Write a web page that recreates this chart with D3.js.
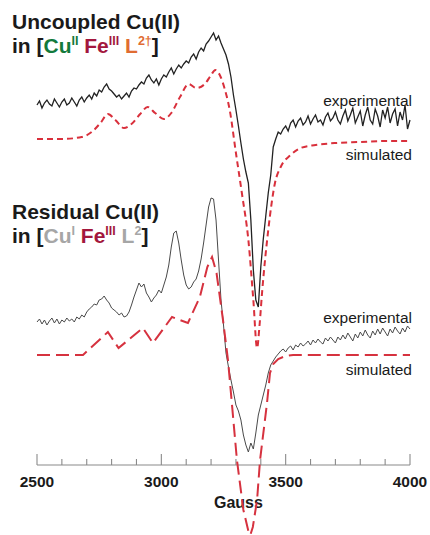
<!DOCTYPE html>
<html>
<head>
<meta charset="utf-8">
<script src="https://cdn.jsdelivr.net/npm/d3@7"></script>
<style>
  body { margin: 0; background: #fff; }
  svg { display: block; font-family: "Liberation Sans", Arial, Helvetica, sans-serif; }
</style>
</head>
<body>
<div id="chart"></div>
<script>
// field grid of the experimental scans (Gauss)
const fieldGrid = d3.range(2500, 4001, 10)

// upper panel, experimental (signal height, arbitrary units)
const expTop = [
  360, 364, 357, 362, 365, 361, 359, 366, 362, 358,
  363, 366, 360, 362, 367, 363, 359, 365, 368, 363,
  367, 370, 366, 372, 369, 375, 373, 378, 381, 376,
  374, 371, 368, 370, 366, 369, 372, 368, 374, 377,
  376, 380, 383, 381, 387, 390, 385, 382, 386, 380,
  386, 390, 388, 393, 397, 391, 396, 400, 397, 401,
  404, 402, 408, 411, 406, 413, 417, 414, 421, 424,
  428, 432, 425, 429, 422, 416, 410, 401, 388, 370,
  355, 339, 322, 306, 293, 282, 245, 195, 165, 158,
  198, 226, 249, 272, 290, 318, 326, 333, 331, 336,
  339, 334, 342, 345, 338, 344, 347, 340, 343, 349,
  341, 346, 350, 343, 345, 340, 348, 352, 344, 347,
  353, 345, 341, 349, 355, 344, 350, 357, 342, 348,
  354, 339, 350, 358, 345, 341, 356, 349, 338, 355,
  347, 358, 342, 351, 356, 339, 353, 345, 360, 336,
  345
]

// lower panel, experimental
const expBottom = [
  143, 146, 141, 145, 140, 144, 147, 142, 146, 141,
  145, 143, 147, 144, 146, 143, 148, 146, 150, 148,
  153, 156, 158, 161, 160, 165, 166, 169, 165, 162,
  157, 155, 153, 150, 152, 148, 149, 153, 160, 168,
  175, 182, 178, 181, 172, 168, 163, 167, 170, 175,
  172, 180, 188, 200, 218, 232, 234, 222, 205, 190,
  180, 176, 178, 183, 186, 194, 206, 222, 240, 258,
  267, 266, 245, 205, 165, 140, 112, 98, 85, 73,
  60, 54, 45, 30, 20, 13, 22, 16, 32, 50,
  60, 70, 80, 92, 100, 104, 108, 111, 114, 116,
  113, 117, 119, 115, 120, 118, 122, 119, 121, 124,
  120, 125, 122, 126, 123, 121, 127, 124, 128, 125,
  122, 128, 125, 130, 126, 132, 128, 124, 131, 127,
  133, 129, 135, 130, 127, 134, 130, 136, 131, 137,
  133, 129, 136, 132, 138, 134, 131, 137, 133, 139,
  136
]

// simulated spectra: [Gauss, signal]
const simTop = [
  [2500, 326], [2600, 326], [2680, 328], [2720, 333], [2755, 342], [2785, 351],
  [2815, 345], [2850, 337], [2880, 341], [2915, 351], [2945, 358], [2975, 352],
  [3010, 346], [3040, 352], [3075, 368], [3110, 381], [3140, 377], [3175, 381],
  [3200, 390], [3217, 395], [3235, 390], [3255, 376], [3275, 355], [3300, 312],
  [3325, 270], [3350, 225], [3370, 165], [3385, 117], [3395, 140], [3405, 172],
  [3430, 235], [3457, 282], [3480, 298], [3520, 310], [3560, 317], [3620, 320],
  [3700, 322], [3800, 323], [3900, 324], [4000, 324]
]

const simBottom = [
  [2500, 110], [2685, 110], [2785, 133], [2828, 117], [2926, 137], [2966, 122],
  [3043, 148], [3107, 142], [3155, 168], [3185, 198], [3204, 208], [3222, 192],
  [3248, 145], [3268, 105], [3304, 5], [3330, -45], [3350, -66], [3358, -70],
  [3368, -62], [3385, -35], [3397, 5], [3425, 62], [3437, 92], [3450, 101],
  [3470, 106], [3500, 109], [3530, 110], [4000, 110]
]

const majorTicks = [2500, 3000, 3500, 4000]
const minorTicks = d3.range(2500, 4001, 100)

const width = 430
const height = 535

const svg = d3.select("#chart")
  .append("svg")
  .attr("width", width)
  .attr("height", height)

const x = d3.scaleLinear().domain([2500, 4000]).range([37, 410])
const y = d3.scaleLinear().domain([0, 440]).range([465, 25])

const expLine = d3.line()
  .x((d, i) => x(fieldGrid[i]))
  .y(d => y(d))

const simLine = d3.line()
  .x(d => x(d[0]))
  .y(d => y(d[1]))

// axis
const axisG = svg.append("g").attr("transform", `translate(0, ${y(0)})`)
axisG.append("line")
  .attr("x1", x(2500)).attr("x2", x(4000))
  .attr("stroke", "#8a8a8a").attr("stroke-width", 1.2)
axisG.selectAll(".minor")
  .data(minorTicks)
  .join("line")
  .attr("x1", d => x(d)).attr("x2", d => x(d))
  .attr("y1", 0).attr("y2", d => majorTicks.includes(d) ? -11 : -6)
  .attr("stroke", "#8a8a8a").attr("stroke-width", 1.1)
axisG.selectAll(".lbl")
  .data(majorTicks)
  .join("text")
  .attr("x", d => x(d))
  .attr("y", 22)
  .attr("text-anchor", "middle")
  .attr("font-size", 15.5)
  .attr("font-weight", "bold")
  .attr("fill", "#1a1a1a")
  .text(d => d)
svg.append("text")
  .attr("x", x(3310))
  .attr("y", 508)
  .attr("text-anchor", "middle")
  .attr("font-size", 16)
  .attr("font-weight", "bold")
  .attr("fill", "#1a1a1a")
  .text("Gauss")

// traces
svg.append("path")
  .datum(expTop)
  .attr("d", expLine)
  .attr("fill", "none")
  .attr("stroke", "#222")
  .attr("stroke-width", 1.3)

svg.append("path")
  .datum(simTop)
  .attr("d", simLine.curve(d3.curveMonotoneX))
  .attr("fill", "none")
  .attr("stroke", "#d9303c")
  .attr("stroke-width", 2)
  .attr("stroke-dasharray", "6,4")

svg.append("path")
  .datum(expBottom)
  .attr("d", expLine)
  .attr("fill", "none")
  .attr("stroke", "#4a4a4a")
  .attr("stroke-width", 1)

svg.append("path")
  .datum(simBottom)
  .attr("d", simLine.curve(d3.curveLinear))
  .attr("fill", "none")
  .attr("stroke", "#d6323f")
  .attr("stroke-width", 2)
  .attr("stroke-dasharray", "13,6")

// trace labels
const traceLabels = [
  { text: "experimental", y: 106 },
  { text: "simulated", y: 160 },
  { text: "experimental", y: 323 },
  { text: "simulated", y: 375 },
]
svg.selectAll(".tl")
  .data(traceLabels)
  .join("text")
  .attr("x", 412)
  .attr("y", d => d.y)
  .attr("text-anchor", "end")
  .attr("font-size", 15.5)
  .attr("fill", "#1a1a1a")
  .text(d => d.text)

// titles
function title(y0, line1, parts) {
  svg.append("text")
    .attr("x", 12).attr("y", y0)
    .attr("font-size", 21).attr("font-weight", "bold").attr("fill", "#1a1a1a")
    .text(line1)
  const t = svg.append("text")
    .attr("x", 12).attr("y", y0 + 24)
    .attr("font-size", 21).attr("font-weight", "bold").attr("fill", "#1a1a1a")
  parts.forEach(p => {
    const s = t.append("tspan").attr("fill", p.c || "#1a1a1a").text(p.t)
    if (p.sup) s.attr("font-size", 12.5).attr("dy", -8)
    if (p.down) s.attr("dy", 8)
  })
}

const green = "#137a3c"
const crimson = "#a3173d"
const orange = "#e06c32"
const grey = "#a6a6a6"

title(29, "Uncoupled Cu(II)", [
  { t: "in [" },
  { t: "Cu", c: green },
  { t: "II", c: green, sup: true },
  { t: " Fe", c: crimson, down: true },
  { t: "III", c: crimson, sup: true },
  { t: " L", c: orange, down: true },
  { t: "2†", c: orange, sup: true },
  { t: "]", down: true },
])

title(219, "Residual Cu(II)", [
  { t: "in [" },
  { t: "Cu", c: grey },
  { t: "I", c: grey, sup: true },
  { t: " Fe", c: crimson, down: true },
  { t: "III", c: crimson, sup: true },
  { t: " L", c: grey, down: true },
  { t: "2", c: grey, sup: true },
  { t: "]", down: true },
])
</script>
</body>
</html>
